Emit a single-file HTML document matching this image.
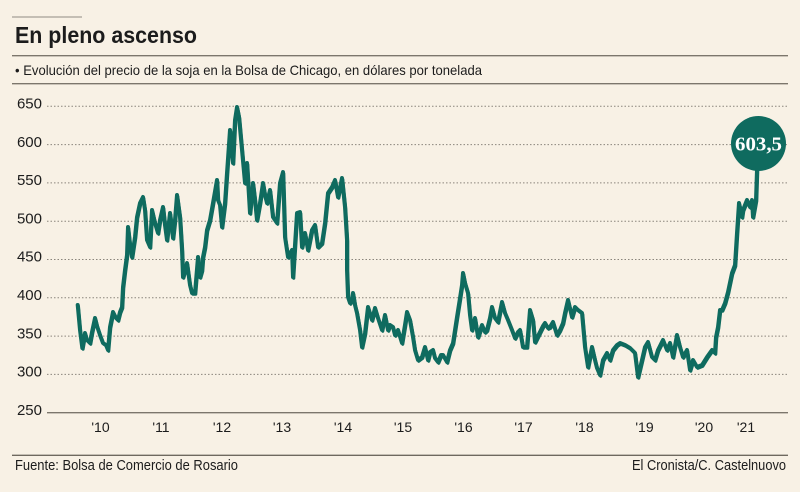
<!DOCTYPE html>
<html>
<head>
<meta charset="utf-8">
<style>
html,body{margin:0;padding:0;background:#f8f1e5;}
svg{display:block;}
text{font-family:"Liberation Sans",sans-serif;fill:#1c1c1c;}
</style>
</head>
<body>
<svg width="800" height="492" viewBox="0 0 800 492" xmlns="http://www.w3.org/2000/svg">
<defs>
<polyline id="ser" fill="none" stroke-linejoin="round" stroke-linecap="round" points="
77.7,305 80,330 82.3,348 85,333 87,340 90,343 92,332 95,318 97,326 100,335 103,343 106,345 108,350 110,327 113,312 116,318 118,320 120,312 122,307 123,287 125,270 127,255 128,227 130,245 132,257 135,237 137,217 140,203 143,197 145,210 147,240 150,247 152,210 155,223 158,233 160,220 163,207 165,225 167,240 170,213 173,238 175,220 177,195 180,217 182,250 183,277 185,270 187,263 190,285 192,293 195,293 198,257 200,277 202,270 203,257 205,247 207,230 210,220 213,203 217,180 218,200 220,205 222,227 225,203 227,173 230,130 233,163 235,120 237,107 239,117 242,150 245,183 247,163 250,213 253,183 255,200 257,220 260,203 263,183 265,195 267,203 270,190 273,217 277,223 280,183 283,172 285,237 288,257 292,250 293,277 297,213 300,212 302,247 305,233 308,250 312,230 315,225 318,247 322,243 325,223 328,193 332,187 335,180 338,197 342,178 345,207 347,240 347,270 348,297 350,303 352,300 353,293 355,305 357,313 360,330 362,347 365,333 368,307 372,320 375,308 378,318 382,330 385,315 388,330 390,325 393,327 395,335 398,330 402,343 405,325 407,312 410,320 413,337 415,350 418,360 422,357 425,347 428,360 430,352 433,350 435,358 438,362 441,355 443,355 447,362 450,350 453,343 457,317 460,298 462,285 463,273 465,283 468,293 470,315 472,330 475,318 478,337 482,325 485,332 487,330 490,318 492,307 495,318 498,322 502,302 505,313 508,320 512,330 515,338 518,332 520,330 523,347 527,347 530,310 533,320 535,342 538,336 540,332 543,326 545,323 548,328 550,327 553,322 557,335 560,330 563,323 565,313 568,300 572,317 575,307 578,310 582,313 585,347 588,367 592,347 595,360 597,368 600,375 603,360 607,353 610,360 613,350 617,345 620,343 625,345 630,348 635,353 638,377 642,360 645,347 648,342 652,357 655,360 658,350 663,340 667,350 670,343 673,357 677,335 680,347 683,357 687,350 690,370 693,360 697,367 702,365 707,357 712,350 715,353 716,337 718,327 720,310 722,310 725,303 728,292 732,273 735,265 737,233 739,203 742,217 743,210 745,205 747,200 750,207 752,200 753,217 756,200 757,170"/>
</defs>
<rect x="0" y="0" width="800" height="492" fill="#f8f1e5"/>
<!-- header -->
<line x1="12" y1="17" x2="82" y2="17" stroke="#8f8a82" stroke-width="1"/>
<text x="15" y="43" font-size="23" font-weight="bold" textLength="182" lengthAdjust="spacingAndGlyphs">En pleno ascenso</text>
<line x1="12" y1="55.7" x2="788" y2="55.7" stroke="#7c766c" stroke-width="1.4"/>
<text x="15" y="75" font-size="14" textLength="467" lengthAdjust="spacingAndGlyphs">• Evolución del precio de la soja en la Bolsa de Chicago, en dólares por tonelada</text>
<line x1="12" y1="83.7" x2="788" y2="83.7" stroke="#7c766c" stroke-width="1.4"/>

<!-- grid -->
<g stroke="#8a857c" stroke-width="1" stroke-dasharray="1.5 2">
<line x1="47" y1="106.3" x2="788" y2="106.3"/>
<line x1="47" y1="144.6" x2="788" y2="144.6"/>
<line x1="47" y1="182.9" x2="788" y2="182.9"/>
<line x1="47" y1="221.2" x2="788" y2="221.2"/>
<line x1="47" y1="259.5" x2="788" y2="259.5"/>
<line x1="47" y1="297.8" x2="788" y2="297.8"/>
<line x1="47" y1="336.1" x2="788" y2="336.1"/>
<line x1="47" y1="374.4" x2="788" y2="374.4"/>
</g>
<line x1="47" y1="412.7" x2="788" y2="412.7" stroke="#7c766c" stroke-width="1.4"/>

<g font-size="15" text-anchor="end">
<text x="42" y="108.5">650</text>
<text x="42" y="146.8">600</text>
<text x="42" y="185.1">550</text>
<text x="42" y="223.4">500</text>
<text x="42" y="261.7">450</text>
<text x="42" y="300">400</text>
<text x="42" y="338.3">350</text>
<text x="42" y="376.6">300</text>
<text x="42" y="414.9">250</text>
</g>

<g font-size="14" text-anchor="middle">
<text x="100.5" y="432">'10</text>
<text x="161" y="432">'11</text>
<text x="222" y="432">'12</text>
<text x="282" y="432">'13</text>
<text x="343" y="432">'14</text>
<text x="403" y="432">'15</text>
<text x="463.5" y="432">'16</text>
<text x="523.5" y="432">'17</text>
<text x="584.5" y="432">'18</text>
<text x="644.5" y="432">'19</text>
<text x="704" y="432">'20</text>
<text x="746" y="432">'21</text>
</g>

<!-- series -->
<use href="#ser" stroke="#0f6b5f" stroke-width="4"/>
<use href="#ser" stroke="#0f6b5f" stroke-width="3" transform="translate(0.8,1.3)"/>

<!-- bubble -->
<circle cx="758.5" cy="143.5" r="27.5" fill="#0f6b5f"/>
<text x="758.5" y="150.5" font-size="20" font-weight="bold" text-anchor="middle" style="fill:#ffffff;font-family:'Liberation Serif',serif;" textLength="47" lengthAdjust="spacingAndGlyphs">603,5</text>

<!-- footer -->
<line x1="12" y1="455.3" x2="788" y2="455.3" stroke="#6f695f" stroke-width="1.4"/>
<text x="15" y="470" font-size="14.5" textLength="223" lengthAdjust="spacingAndGlyphs">Fuente: Bolsa de Comercio de Rosario</text>
<text x="632" y="470" font-size="14.5" textLength="154" lengthAdjust="spacingAndGlyphs">El Cronista/C. Castelnuovo</text>
</svg>
</body>
</html>
